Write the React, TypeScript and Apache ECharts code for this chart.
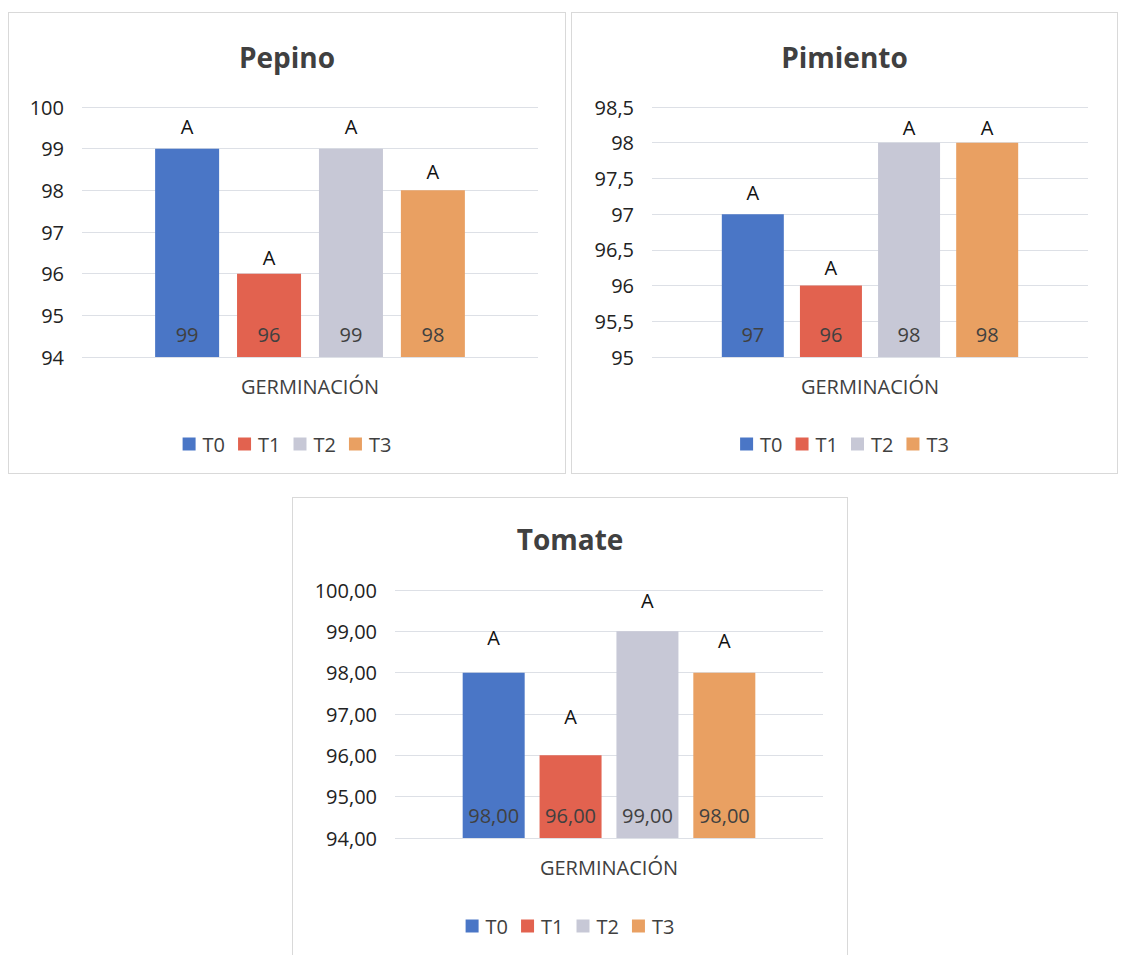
import React, { useEffect, useRef } from "react";
import * as echarts from "echarts";

// Shared category and series names
const categories = ["GERMINACIÓN"];
const seriesNames = ["T0", "T1", "T2", "T3"];
const seriesColors = ["#4a76c6", "#e2624f", "#c7c8d6", "#e9a062"];

// Pepino
const pepinoValues = [99, 96, 99, 98];
const pepinoLetters = ["A", "A", "A", "A"];
const pepinoTicks = { min: 94, max: 100, interval: 1 };

// Pimiento
const pimientoValues = [97, 96, 98, 98];
const pimientoLetters = ["A", "A", "A", "A"];
const pimientoTicks = { min: 95, max: 98.5, interval: 0.5 };

// Tomate
const tomateValues = [98, 96, 99, 98];
const tomateLetters = ["A", "A", "A", "A"];
const tomateTicks = { min: 94, max: 100, interval: 1 };

const FONT = "'Open Sans', 'Noto Sans', sans-serif";
const TEXT = "#404040";

type PanelSpec = {
  title: string;
  values: number[];
  letters: string[];
  letterGap: number[]; // spacing between each bar top and its letter
  ticks: { min: number; max: number; interval: number };
  axisFmt: (v: number) => string;
  valueFmt: (v: number) => string;
  box: { left: number; top: number; width: number; height: number };
  grid: { left: number; top: number; width: number; height: number };
  titleTop: number;
  legendTop: number;
  barWidth: number;
  barGap: string;
};

const comma = (s: string) => s.replace(".", ",");

const panels: PanelSpec[] = [
  {
    title: "Pepino",
    values: pepinoValues,
    letters: pepinoLetters,
    letterGap: [12, 6, 12, 8],
    ticks: pepinoTicks,
    axisFmt: (v) => comma(String(v)),
    valueFmt: (v) => String(v),
    box: { left: 8, top: 12, width: 558, height: 462 },
    grid: { left: 73, top: 94, width: 456, height: 250 },
    titleTop: 25,
    legendTop: 416,
    barWidth: 64,
    barGap: "28%",
  },
  {
    title: "Pimiento",
    values: pimientoValues,
    letters: pimientoLetters,
    letterGap: [11, 8, 5, 5],
    ticks: pimientoTicks,
    axisFmt: (v) => comma(String(v)),
    valueFmt: (v) => String(v),
    box: { left: 571, top: 12, width: 547, height: 462 },
    grid: { left: 80, top: 94, width: 436, height: 250 },
    titleTop: 25,
    legendTop: 416,
    barWidth: 62,
    barGap: "26%",
  },
  {
    title: "Tomate",
    values: tomateValues,
    letters: tomateLetters,
    letterGap: [25, 28, 20, 22],
    ticks: tomateTicks,
    axisFmt: (v) => comma(v.toFixed(2)),
    valueFmt: (v) => comma(v.toFixed(2)),
    box: { left: 292, top: 497, width: 556, height: 470 },
    grid: { left: 102, top: 92, width: 428, height: 248 },
    titleTop: 22,
    legendTop: 413,
    barWidth: 62,
    barGap: "24%",
  },
];

function Panel({ spec }: { spec: PanelSpec }) {
  const ref = useRef<HTMLDivElement>(null);

  useEffect(() => {
    if (!ref.current) return;
    const chart = echarts.init(ref.current, null, { renderer: "svg" });
    chart.setOption({
      animation: false,
      title: {
        text: spec.title,
        left: "center",
        top: spec.titleTop,
        textStyle: { fontFamily: FONT, fontSize: 28, fontWeight: "bold", color: TEXT },
      },
      legend: {
        data: seriesNames,
        left: "center",
        top: spec.legendTop,
        icon: "rect",
        itemWidth: 13,
        itemHeight: 13,
        itemGap: 13,
        textStyle: { fontFamily: FONT, fontSize: 20, color: TEXT, padding: [0, 0, 0, 2] },
      },
      grid: { ...spec.grid, containLabel: false },
      xAxis: {
        type: "category",
        data: categories,
        axisLine: { show: false },
        axisTick: { show: false },
        axisLabel: { fontFamily: FONT, fontSize: 20, color: TEXT, margin: 19 },
      },
      yAxis: {
        type: "value",
        min: spec.ticks.min,
        max: spec.ticks.max,
        interval: spec.ticks.interval,
        axisLine: { show: false },
        axisTick: { show: false },
        splitLine: { lineStyle: { color: "#dde0e6", width: 1 } },
        axisLabel: {
          fontFamily: FONT,
          fontSize: 20,
          color: "#222",
          margin: 18,
          formatter: spec.axisFmt,
        },
      },
      series: seriesNames.map((name, i) => ({
        name,
        type: "bar",
        data: [spec.values[i]],
        barWidth: spec.barWidth,
        barGap: spec.barGap,
        itemStyle: { color: seriesColors[i] },
        label: {
          show: true,
          position: "insideBottom",
          distance: 13,
          fontFamily: FONT,
          fontSize: 20,
          color: TEXT,
          formatter: (p: any) => spec.valueFmt(p.value),
        },
        markPoint: {
          symbol: "rect",
          symbolSize: 1,
          itemStyle: { color: "rgba(0,0,0,0)" },
          label: {
            show: true,
            position: "top",
            distance: spec.letterGap[i],
            fontFamily: FONT,
            fontSize: 20,
            color: "#111",
            formatter: () => spec.letters[i],
          },
          data: [{ coord: [categories[0], spec.values[i]] }],
        },
      })),
    });
    return () => chart.dispose();
  }, [spec]);

  return (
    <div
      style={{
        position: "absolute",
        left: spec.box.left,
        top: spec.box.top,
        width: spec.box.width,
        height: spec.box.height,
        border: "1px solid #d9d9d9",
        boxSizing: "border-box",
        background: "#fff",
      }}
    >
      <div ref={ref} style={{ width: "100%", height: "100%" }} />
    </div>
  );
}

export default function App() {
  return (
    <div
      style={{
        position: "absolute",
        left: 0,
        top: 0,
        width: 1122,
        height: 955,
        overflow: "hidden",
        background: "#fff",
      }}
    >
      {panels.map((p) => (
        <Panel key={p.title} spec={p} />
      ))}
    </div>
  );
}
